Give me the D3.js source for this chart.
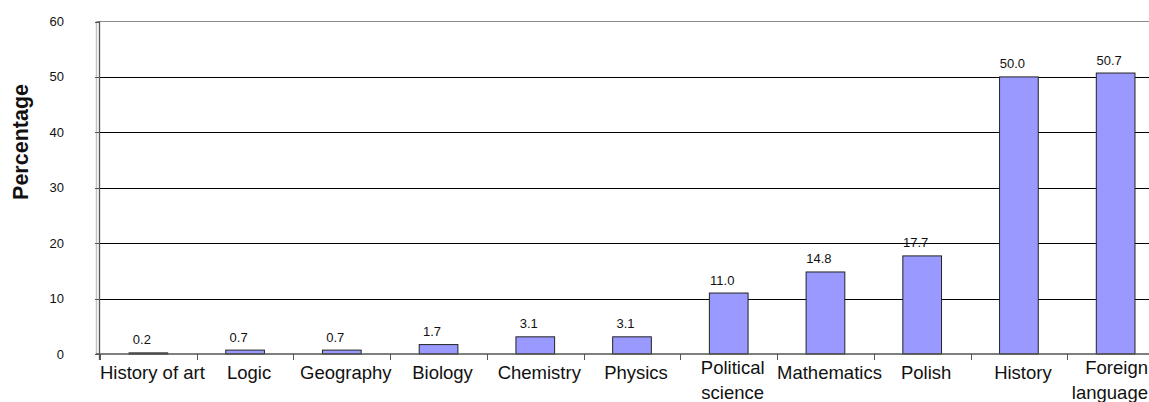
<!DOCTYPE html>
<html>
<head>
<meta charset="utf-8">
<script src="https://cdn.jsdelivr.net/npm/d3@7"></script>
<style>
    body { margin: 0; background: #fff; }
    text { font-family: "Liberation Sans", Arial, sans-serif; }
</style>
</head>
<body>
<svg id="chart" width="1149" height="402"></svg>
<script>
// data
const subjects = ["History of art", "Logic", "Geography", "Biology", "Chemistry", "Physics",
    "Political science", "Mathematics", "Polish", "History", "Foreign language"]
const percentages = [0.2, 0.7, 0.7, 1.7, 3.1, 3.1, 11.0, 14.8, 17.7, 50.0, 50.7]
const yTicks = [0, 10, 20, 30, 40, 50, 60]
const axisTitle = "Percentage"

const svg = d3.select("#chart")
const W = +svg.attr("width")

// plot box (right side runs past the picture edge, as in the reference)
const pLeft = 100, pRight = 1164, pTop = 21.5, pBottom = 354

let scX = d3.scaleBand().domain(subjects).range([pLeft, pRight]).padding(0)
let scY = d3.scaleLinear().domain([0, 60]).range([pBottom, pTop])

let data = subjects.map((s, i) => ({ subject: s, value: percentages[i] }))

// back wall edges
svg.append("line")
    .attr("x1", pLeft - 4).attr("x2", pRight).attr("y1", pTop).attr("y2", pTop)
    .attr("stroke", "#8a8a8a")
svg.append("line")
    .attr("x1", pLeft - 3.5).attr("x2", pLeft - 3.5).attr("y1", pTop).attr("y2", pBottom)
    .attr("stroke", "#c4c4c4").attr("stroke-width", 1.5)

// gridlines
svg.selectAll("line.grid").data(yTicks.filter(t => t > 0 && t < 60))
    .enter().append("line")
    .attr("class", "grid")
    .attr("x1", pLeft - 5).attr("x2", pRight)
    .attr("y1", d => Math.round(scY(d)) + 0.5).attr("y2", d => Math.round(scY(d)) + 0.5)
    .attr("stroke", "#000")

// y ticks and labels
let yAxis = svg.append("g")
yAxis.selectAll("line").data(yTicks).enter().append("line")
    .attr("x1", pLeft - 5).attr("x2", pLeft)
    .attr("y1", d => Math.round(scY(d)) + 0.5).attr("y2", d => Math.round(scY(d)) + 0.5)
    .attr("stroke", "#555")
yAxis.selectAll("text").data(yTicks).enter().append("text")
    .attr("x", 64).attr("y", d => scY(d))
    .attr("dy", "0.35em")
    .attr("text-anchor", "end")
    .attr("font-size", 13)
    .attr("fill", "#111")
    .text(d => d)

// y axis line
svg.append("line")
    .attr("x1", pLeft - 0.5).attr("x2", pLeft - 0.5).attr("y1", pTop).attr("y2", pBottom + 6)
    .attr("stroke", "#555").attr("stroke-width", 1.3)

// bars
let bw = scX.bandwidth() * 0.4
svg.selectAll("rect.bar").data(data).enter().append("rect")
    .attr("class", "bar")
    .attr("x", d => scX(d.subject) + (scX.bandwidth() - bw) / 2)
    .attr("y", d => scY(d.value))
    .attr("width", bw)
    .attr("height", d => pBottom - scY(d.value))
    .attr("fill", "#9999ff")
    .attr("stroke", "#222")
    .attr("stroke-width", 1)

// value labels
svg.selectAll("text.val").data(data).enter().append("text")
    .attr("class", "val")
    .attr("x", d => scX(d.subject) + scX.bandwidth() / 2 - 6.5)
    .attr("y", d => scY(d.value) - 8.5)
    .attr("text-anchor", "middle")
    .attr("font-size", 13)
    .attr("fill", "#111")
    .text(d => d.value.toFixed(1))

// x axis line and ticks
svg.append("line")
    .attr("x1", pLeft - 4).attr("x2", pRight).attr("y1", pBottom).attr("y2", pBottom)
    .attr("stroke", "#555").attr("stroke-width", 1.3)
svg.selectAll("line.xtick").data(subjects).enter().append("line")
    .attr("class", "xtick")
    .attr("x1", d => Math.round(scX(d)) + 0.5).attr("x2", d => Math.round(scX(d)) + 0.5)
    .attr("y1", pBottom).attr("y2", pBottom + 6)
    .attr("stroke", "#555")

// category labels, wrapped ones get two lines
const wrapped = { "Political science": ["Political", "science"], "Foreign language": ["Foreign", "language"] }
svg.selectAll("text.cat").data(subjects).enter().append("text")
    .attr("class", "cat")
    .attr("font-size", 18.5)
    .attr("fill", "#111")
    .attr("text-anchor", "middle")
    .each(function (d) {
        let lines = wrapped[d] || [d]
        let sel = d3.select(this)
        let cx = scX(d) + scX.bandwidth() / 2 + 4
        let y0 = lines.length > 1 ? 374 : 379
        lines.forEach((ln, i) => {
            let t = sel.append("tspan").attr("x", cx).attr("y", y0 + i * 24.5).text(ln)
            // keep the label inside the picture
            let w = t.node().getComputedTextLength()
            if (cx + w / 2 > W - 1) t.attr("x", W - 1 - w / 2)
        })
    })

// axis title
svg.append("text")
    .attr("transform", "translate(28,142) rotate(-90)")
    .attr("text-anchor", "middle")
    .attr("font-size", 21.5)
    .attr("font-weight", "bold")
    .attr("fill", "#111")
    .text(axisTitle)
</script>
</body>
</html>
